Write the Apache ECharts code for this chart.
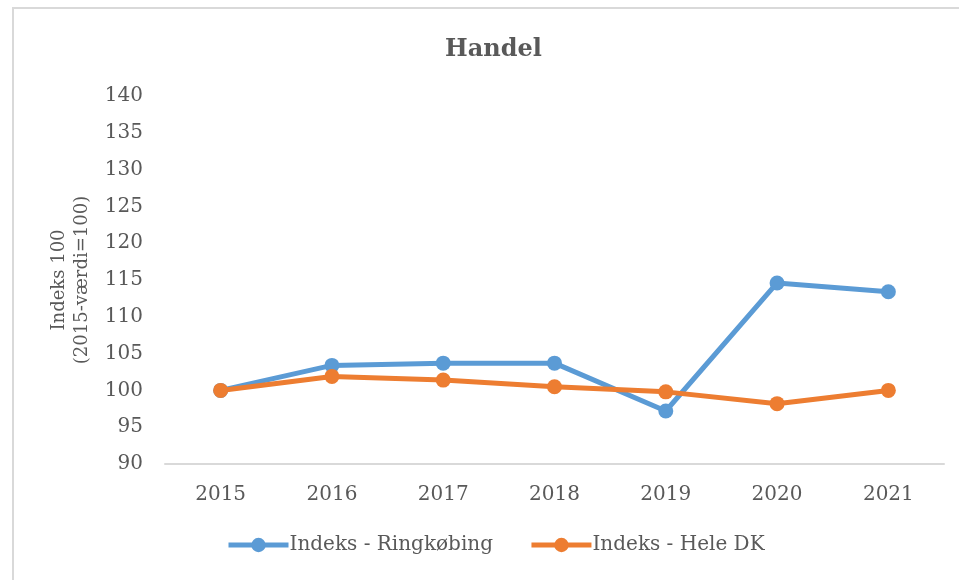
<!DOCTYPE html>
<html>
<head>
<meta charset="utf-8">
<title>Handel</title>
<script src="https://cdn.jsdelivr.net/npm/echarts@6/dist/echarts.min.js"></script>
<style>
  html, body { margin: 0; padding: 0; background: #fff; }
  #chart { width: 959px; height: 580px; }
</style>
</head>
<body>
<div id="chart"></div>
<script>
// data
var years = ['2015', '2016', '2017', '2018', '2019', '2020', '2021'];
var ringkobing = [100, 103.4, 103.7, 103.7, 97.2, 114.6, 113.4];
var heleDK = [100, 101.9, 101.4, 100.5, 99.8, 98.2, 100];

var serif = '"DejaVu Serif", "Liberation Serif", serif';
var textColor = '#595959';

var myChart = echarts.init(document.getElementById('chart'));

var option = {
    backgroundColor: '#fff',
    title: {
        text: 'Handel',
        left: 440,
        top: 33,
        textStyle: { fontFamily: serif, fontSize: 24, fontWeight: 'bold', color: textColor }
    },
    // chart frame (only left and top show in the picture)
    graphic: [{
        type: 'rect',
        shape: { x: 13, y: 8, width: 1000, height: 700 },
        style: { fill: 'none', stroke: '#d9d9d9', lineWidth: 2 },
        silent: true
    }],
    grid: { left: 165, right: 15, top: 96, bottom: 116 },
    legend: {
        bottom: 20,
        left: 221,
        itemWidth: 60,
        itemHeight: 18,
        itemGap: 36,
        lineStyle: { width: 5 },
        textStyle: { fontFamily: serif, fontSize: 20, color: textColor, padding: [0, 0, 0, -4] },
        data: ['Indeks - Ringkøbing', 'Indeks - Hele DK']
    },
    xAxis: {
        type: 'category',
        data: years,
        boundaryGap: true,
        axisLine: { lineStyle: { color: '#d9d9d9', width: 2 } },
        axisTick: { show: false },
        axisLabel: { fontFamily: serif, fontSize: 20, color: textColor, margin: 21 }
    },
    yAxis: {
        type: 'value',
        min: 90,
        max: 140,
        interval: 5,
        name: 'Indeks 100\n(2015-værdi=100)',
        nameLocation: 'middle',
        nameGap: 66,
        nameTextStyle: { fontFamily: serif, fontSize: 18, color: textColor, lineHeight: 23 },
        axisLine: { show: false },
        axisTick: { show: false },
        splitLine: { show: false },
        axisLabel: { fontFamily: serif, fontSize: 20, color: textColor, margin: 22 }
    },
    series: [
        {
            name: 'Indeks - Ringkøbing',
            type: 'line',
            data: ringkobing,
            symbol: 'circle',
            symbolSize: 15,
            color: '#5B9BD5',
            lineStyle: { width: 5, color: '#5B9BD5' },
            itemStyle: { color: '#5B9BD5' },
            z: 2
        },
        {
            name: 'Indeks - Hele DK',
            type: 'line',
            data: heleDK,
            symbol: 'circle',
            symbolSize: 15,
            color: '#ED7D31',
            lineStyle: { width: 5, color: '#ED7D31' },
            itemStyle: { color: '#ED7D31' },
            z: 3
        }
    ]
};

myChart.setOption(option);
</script>
</body>
</html>
